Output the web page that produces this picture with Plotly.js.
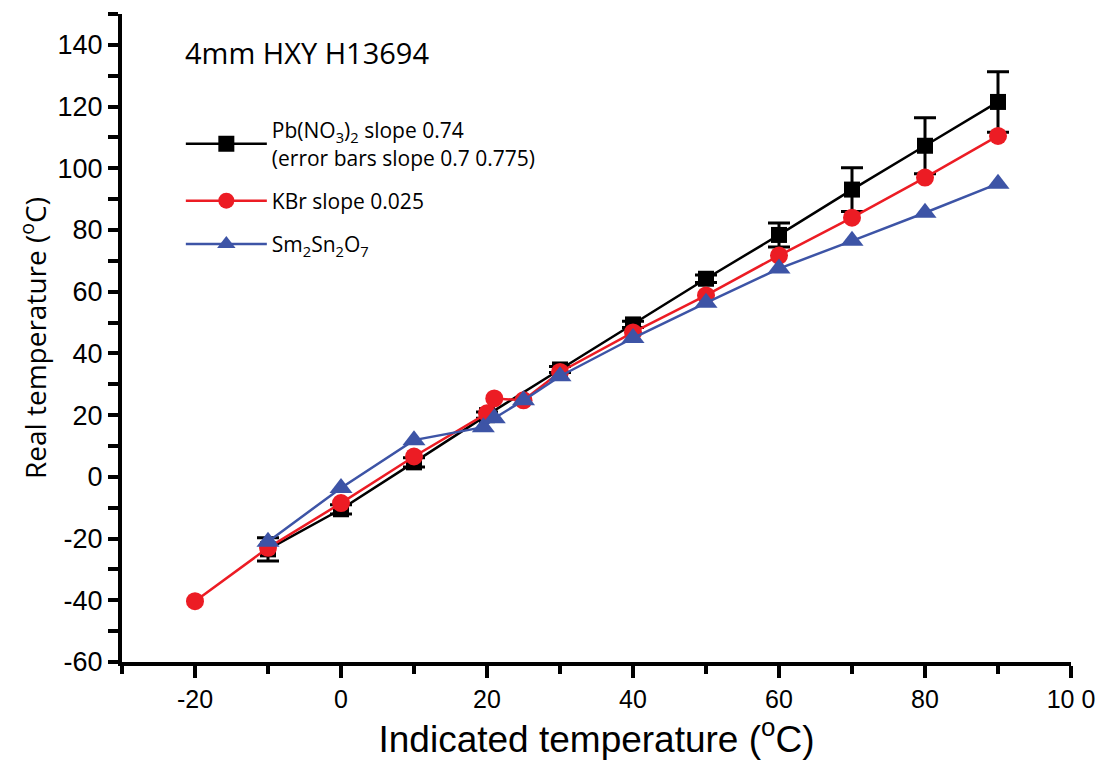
<!DOCTYPE html>
<html>
<head>
<meta charset="utf-8">
<script src="https://cdn.plot.ly/plotly-3.0.1.min.js"></script>
<style>html,body{margin:0;padding:0;background:#fff;}#chart{width:1103px;height:766px;}</style>
</head>
<body>
<div id="chart"></div>
<script>
// Pb(NO3)2 series
const pbX = [-10, 0, 10, 20, 30, 40, 50, 60, 70, 80, 90];
const pbY = [-23.5, -10.5, 4.7, 20, 34.8, 49.4, 64.2, 78.4, 93.1, 107.3, 121.5];
const pbErr = [3.8, 1.5, 1.5, 1, 1, 1, 1.2, 3.9, 7.1, 9.1, 9.8];
// KBr series
const kbrX = [-20, -10, 0, 10, 20, 21, 25, 30, 40, 50, 60, 70, 80, 90];
const kbrY = [-40.3, -23, -8.5, 6.6, 20.6, 25.4, 24.8, 34, 46.8, 58.8, 71.7, 84, 97, 110.5];
// Sm2Sn2O7 series
const smX = [-10, 0, 10, 19.5, 21, 25, 30, 40, 50, 60, 70, 80, 90];
const smY = [-21, -3.6, 11.9, 16.1, 19, 24.8, 32.6, 45, 56.4, 67.5, 76.5, 85.6, 95];
// tick labels
const xTickVals = [-20, 0, 20, 40, 60, 80, 100];
const xTickText = ['-20', '0', '20', '40', '60', '80', '10 0'];
const xMinorVals = [-30, -10, 10, 30, 50, 70, 90];
const yTickVals = [-60, -40, -20, 0, 20, 40, 60, 80, 100, 120, 140];
const yTickText = ['-60', '-40', '-20', '0', '20', '40', '60', '80', '100', '120', '140'];
const yMinorVals = [-50, -30, -10, 10, 30, 50, 70, 90, 110, 130, 150];

const names = [
  'Pb(NO<sub>3</sub>)<sub>2</sub> slope 0.74<br>(error bars slope 0.7 0.775)',
  'KBr slope 0.025',
  'Sm<sub>2</sub>Sn<sub>2</sub>O<sub>7</sub>'
];

const traces = [
  {
    x: pbX, y: pbY, name: names[0], type: 'scatter', mode: 'lines+markers',
    legendgroup: 'a',
    line: {color: '#000000', width: 2.5},
    marker: {symbol: 'square', size: 16, color: '#000000'},
    error_y: {type: 'data', array: pbErr, visible: true, color: '#000', thickness: 3, width: 11}
  },
  {
    x: kbrX, y: kbrY, name: names[1], type: 'scatter', mode: 'lines+markers',
    legendgroup: 'b',
    line: {color: '#ec1c24', width: 2.5},
    marker: {symbol: 'circle', size: 18, color: '#ec1c24'}
  },
  {
    x: smX, y: smY, name: names[2], type: 'scatter', mode: 'lines+markers',
    legendgroup: 'c',
    line: {color: '#3d54a6', width: 2.5},
    marker: {symbol: 'triangle-up', size: 20, color: '#3d54a6'}
  }
];

const layout = {
  width: 1103, height: 766,
  margin: {l: 122, r: 32, t: 14, b: 104},
  paper_bgcolor: '#fff', plot_bgcolor: '#fff',
  font: {family: 'Liberation Sans, Arial, sans-serif', color: '#000'},
  showlegend: true,
  legend: {
    x: 0.062, y: 0.852, xanchor: 'left', yanchor: 'top',
    bgcolor: 'rgba(0,0,0,0)',
    traceorder: 'grouped',
    font: {family: 'Open Sans, sans-serif', size: 21, color: '#000'},
    tracegroupgap: 13, itemwidth: 81
  },
  xaxis: {
    range: [-30, 100], showgrid: false, zeroline: false,
    showline: true, linecolor: '#000', linewidth: 4, mirror: false,
    ticks: 'outside', ticklen: 12, tickwidth: 4, tickcolor: '#000',
    tickmode: 'array', tickvals: xTickVals, ticktext: xTickText,
    tickfont: {size: 25, family: 'Liberation Sans, Arial, sans-serif'},
    minor: {tickmode: 'array', tickvals: xMinorVals, ticklen: 8, tickwidth: 4, tickcolor: '#000', showgrid: false},
    title: {text: 'Indicated temperature (<sup>o</sup>C)', font: {size: 37, family: 'Liberation Sans, Arial, sans-serif'}, standoff: 14}
  },
  yaxis: {
    range: [-60, 150], showgrid: false, zeroline: false,
    showline: true, linecolor: '#000', linewidth: 4,
    ticks: 'outside', ticklen: 10, tickwidth: 4, tickcolor: '#000',
    tickmode: 'array', tickvals: yTickVals, ticktext: yTickText,
    tickfont: {size: 27, family: 'Liberation Sans, Arial, sans-serif'},
    minor: {tickmode: 'array', tickvals: yMinorVals, ticklen: 10, tickwidth: 4, tickcolor: '#000', showgrid: false},
    title: {text: 'Real temperature (<sup>o</sup>C)', font: {size: 28, family: 'Open Sans, sans-serif'}, standoff: 4}
  },
  annotations: [
    {
      xref: 'paper', yref: 'paper', x: 0.064, y: 0.94, xanchor: 'left', yanchor: 'middle',
      text: '4mm HXY H13694', showarrow: false,
      font: {family: 'Open Sans, sans-serif', size: 29, color: '#000'}
    }
  ]
};

Plotly.newPlot('chart', traces, layout, {displayModeBar: false, staticPlot: true});
</script>
</body>
</html>
